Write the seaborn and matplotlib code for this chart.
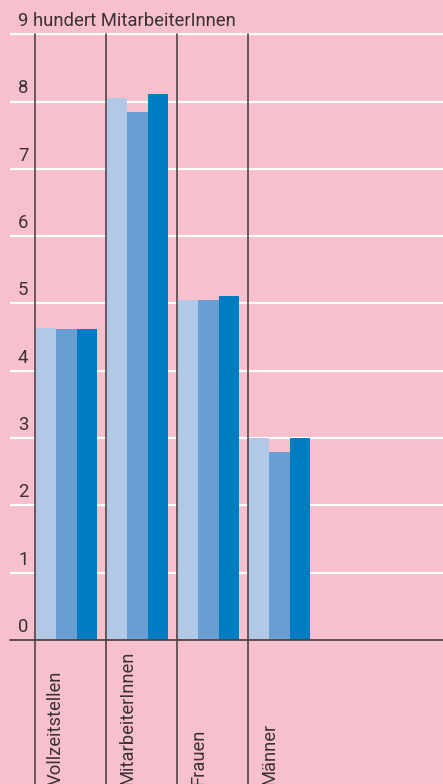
import matplotlib
matplotlib.use("Agg")
import matplotlib.pyplot as plt
import matplotlib.transforms as mtransforms
import seaborn as sns
import pandas as pd

# ---- data ----
categories = ["Vollzeitstellen", "MitarbeiterInnen", "Frauen", "Männer"]
series_names = ["Jahr 1", "Jahr 2", "Jahr 3"]
series1 = [4.64, 8.06, 5.05, 3.00]
series2 = [4.62, 7.85, 5.05, 2.79]
series3 = [4.62, 8.11, 5.11, 3.00]
y_ticks = [0, 1, 2, 3, 4, 5, 6, 7, 8, 9]
y_tick_labels = ["0", "1", "2", "3", "4", "5", "6", "7", "8", "9 hundert MitarbeiterInnen"]

colors = ["#b1c8e7", "#689ed2", "#007cc3"]
bg = "#f8bfcd"
dark = "#4e4449"
text_color = "#3a3236"

rows = []
for name, vals in zip(series_names, [series1, series2, series3]):
    for c, v in zip(categories, vals):
        rows.append({"Kategorie": c, "Serie": name, "Wert": v})
df = pd.DataFrame(rows)

sns.set_theme(style="white")
plt.rcParams["font.family"] = ["Roboto", "DejaVu Sans"]

W, H = 443, 784
fig = plt.figure(figsize=(W / 100, H / 100), dpi=100, facecolor=bg)
ax_left, ax_right, ax_bottom, ax_top = 10, 443, 640, 20.8
ax = fig.add_axes([ax_left / W, (H - ax_bottom) / H, (ax_right - ax_left) / W, (ax_bottom - ax_top) / H])
ax.set_facecolor("none")

sns.barplot(data=df, x="Kategorie", y="Wert", hue="Serie", palette=colors,
            width=0.86, saturation=1, legend=False, ax=ax, linewidth=0,
            errorbar=None, zorder=2)

ax.set_ylim(0, 9.2)
ax.set_xlim(-0.796, 5.303)
for s in ax.spines.values():
    s.set_visible(False)
ax.set_xticks([])
ax.set_yticks([])
ax.set_xlabel("")
ax.set_ylabel("")

# white gridlines
for v in y_ticks[1:]:
    ax.axhline(v, color="white", lw=1.6, zorder=1)
# baseline
ax.axhline(0, color=dark, lw=1.3, zorder=4, clip_on=False)

# vertical separators
for i in range(len(categories)):
    ax.axvline(i - 0.444, ymin=-0.25, ymax=9 / 9.2, color=dark, lw=1.2,
               clip_on=False, zorder=4)

# y tick labels (placed above the gridlines)
trans_y = mtransforms.blended_transform_factory(ax.transAxes, ax.transData)
for v, lab in zip(y_ticks, y_tick_labels):
    ax.text(8 / 433, v + 0.195, lab, transform=trans_y, ha="left", va="center",
            fontsize=13.3, color=text_color, clip_on=False)

# category labels, rotated
trans_x = mtransforms.blended_transform_factory(ax.transData, ax.transAxes)
for i, c in enumerate(categories):
    ax.text(i - 0.272, -0.2342, c, transform=trans_x, rotation=90,
            ha="left", va="bottom", fontsize=13.2, color=text_color, clip_on=False)

fig.savefig("out.png", dpi=100, facecolor=bg)
